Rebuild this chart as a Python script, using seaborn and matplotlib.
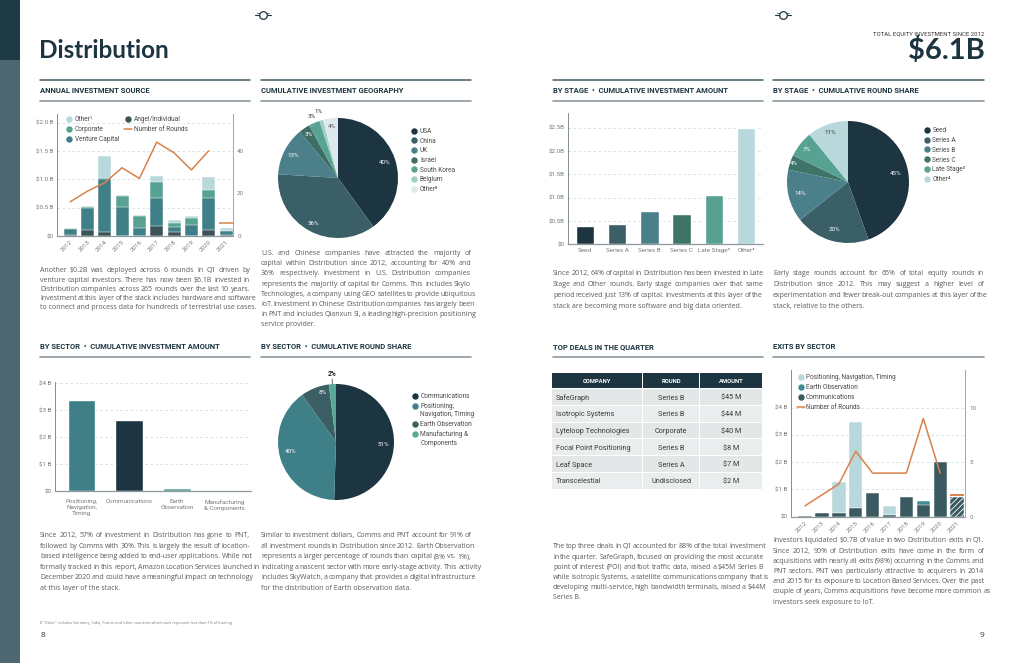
import seaborn as sns
import matplotlib.pyplot as plt
from matplotlib.lines import Line2D
from matplotlib.patches import Rectangle
import numpy as np

# ---------------- data ----------------
years = ['2012', '2013', '2014', '2015', '2016', '2017', '2018', '2019', '2020', '2021']
angel = [0.01, 0.10, 0.07, 0.00, 0.00, 0.18, 0.07, 0.00, 0.10, 0.02]
venture = [0.11, 0.40, 0.94, 0.51, 0.14, 0.49, 0.09, 0.20, 0.57, 0.07]
corporate = [0.00, 0.01, 0.01, 0.19, 0.22, 0.28, 0.07, 0.12, 0.14, 0.00]
other_src = [0.03, 0.025, 0.39, 0.02, 0.016, 0.11, 0.046, 0.027, 0.236, 0.05]
rounds = [16, 21, 25, 32, 27, 44, 39, 31, 40, 6]

geo_labels = ['USA', 'China', 'UK', 'Israel', 'South Korea', 'Belgium', 'Other⁸']
geo_share = [40, 36, 13, 3, 3, 1, 4]

stages = ['Seed', 'Series A', 'Series B', 'Series C', 'Late Stage³', 'Other⁴']
stage_amount = [0.39, 0.43, 0.71, 0.65, 1.06, 2.50]
stage_share = [45, 20, 14, 4, 7, 11]

sectors = ['Positioning,\nNavigation,\nTiming', 'Communications', 'Earth\nObservation', 'Manufacturing\n& Components']
sector_amount = [3.38, 2.62, 0.12, 0.05]
sector_pie_labels = ['Communications', 'Positioning,\nNavigation, Timing', 'Earth Observation', 'Manufacturing &\nComponents']
sector_share = [51, 40, 8, 2]

deal_company = ['SafeGraph', 'Isotropic Systems', 'Lyteloop Technologies', 'Focal Point Positioning', 'Leaf Space', 'Transcelestial']
deal_round = ['Series B', 'Series B', 'Corporate', 'Series B', 'Series A', 'Undisclosed']
deal_amount = ['$45 M', '$44 M', '$40 M', '$8 M', '$7 M', '$2 M']

exit_comms = [0.03, 0.15, 0.15, 0.33, 0.87, 0.05, 0.73, 0.44, 2.02, 0.73]
exit_eo = [0.0, 0.0, 0.0, 0.0, 0.0, 0.0, 0.0, 0.12, 0.0, 0.0]
exit_pnt = [0.0, 0.0, 1.12, 3.14, 0.0, 0.35, 0.0, 0.02, 0.0, 0.0]
exit_rounds = [1, 2, 3, 6, 4, 4, 4, 9, 4, 2]

# ---------------- style ----------------
NAVY = '#1c3541'
TEAL = '#3f8088'
GREEN = '#58a293'
LIGHT = '#b9d8dc'
ORANGE = '#d9824b'
GRID = '#cfe0e3'
SPINE = '#8c999d'
BODY = '#5b5b5b'
TICK = '#7a7a7a'

sns.set_theme(style='white')
plt.rcParams['font.family'] = ['Open Sans', 'DejaVu Sans']
plt.rcParams['hatch.color'] = '#8fa6ab'
plt.rcParams['hatch.linewidth'] = 0.6
COND = ['Liberation Sans Narrow', 'Roboto', 'DejaVu Sans']
HEAD = ['Roboto', 'DejaVu Sans']

W, H = 1024, 663
fig = plt.figure(figsize=(W / 100, H / 100), dpi=100)
renderer = fig.canvas.get_renderer()


def box(l, t, r, b):
    return fig.add_axes([l / W, 1 - b / H, (r - l) / W, (b - t) / H])


def ftext(x, y, s, size=5.0, color=BODY, family=None, **kw):
    # y is the visual middle of the lowercase letters; text sits on a baseline
    if 'va' not in kw:
        kw['va'] = 'baseline'
        y = y + size * 0.48
    return fig.text(x / W, 1 - y / H, s, fontsize=size, color=color,
                    family=family or ['Open Sans', 'DejaVu Sans'], **kw)


def rule(x0, x1, y, color, lw=1.0):
    fig.add_artist(Line2D([x0 / W, x1 / W], [1 - y / H] * 2, color=color, lw=lw))


def paragraph(x0, x1, y0, step, lines, size=5.0):
    # justified block, last line flush left
    for i, line in enumerate(lines):
        y = y0 + i * step
        words = line.split()
        if i == len(lines) - 1:
            ftext(x0, y, line, size=size)
            continue
        arts = [ftext(x0, y, w, size=size) for w in words]
        widths = [a.get_window_extent(renderer).width for a in arts]
        gap = max((x1 - x0 - sum(widths)) / (len(words) - 1), 1.0)
        x = x0
        for a, w in zip(arts, widths):
            a.set_x(x / W)
            x += w + gap


def dot_legend(xd, xt, ys, labels, colors, kinds=None, size=4.7):
    kinds = kinds or ['dot'] * len(labels)
    for y, lab, c, k in zip(ys, labels, colors, kinds):
        if k == 'line':
            fig.add_artist(Line2D([(xd - 4) / W, (xd + 4) / W], [1 - y / H] * 2, color=c, lw=1.1))
        else:
            fig.add_artist(Line2D([xd / W], [1 - y / H], marker='o', ms=3.6, color=c, ls=''))
        for j, part in enumerate(lab.split('\n')):
            ftext(xt, y + j * 8.3, part, size=size, color='#4a4a4a', family=COND)


def section(x0, x1, y_title, title, top_rule=True):
    if top_rule:
        rule(x0, x1, y_title - 11, '#3f5a63', 1.1)
    ftext(x0, y_title - 0.6, title, size=5.5, color=NAVY, family=HEAD, weight='bold')
    rule(x0, x1, y_title + 10, '#8b9a9f', 1.2)


def style_axes(ax, ticks, labels, ylim, xlim):
    ax.set_ylim(*ylim)
    ax.set_xlim(*xlim)
    ax.set_yticks(ticks, labels)
    for t in ticks[1:]:
        ax.axhline(t, color=GRID, lw=0.6, ls=(0, (3, 3)), zorder=0.5)
    sns.despine(ax=ax)
    ax.spines['left'].set_color('#6d7b80')
    ax.spines['left'].set_linewidth(0.6)
    ax.spines['bottom'].set_color(SPINE)
    ax.spines['bottom'].set_linewidth(0.9)
    ax.tick_params(length=0, labelsize=4.5, labelcolor=TICK, pad=2.5)
    ax.set_xlabel('')
    ax.set_ylabel('')
    for lbl in ax.get_xticklabels() + ax.get_yticklabels():
        lbl.set_family(COND)
    ax.patch.set_alpha(0)


def style_right(ax, ylim, ticks, xlim):
    ax.set_ylim(*ylim)
    ax.set_yticks(ticks, [str(t) for t in ticks])
    ax.set_xlim(*xlim)
    ax.set_ylabel('')
    for s in ('top', 'left', 'bottom'):
        ax.spines[s].set_visible(False)
    ax.spines['right'].set_color(SPINE)
    ax.spines['right'].set_linewidth(0.6)
    ax.tick_params(length=0, labelsize=4.5, labelcolor=TICK, pad=3)
    for lbl in ax.get_yticklabels():
        lbl.set_family(COND)


def stacked(ax, layers, colors, width):
    cum = np.cumsum(np.array(layers), axis=0)
    for i in reversed(range(len(layers))):
        sns.barplot(x=years, y=cum[i], color=colors[i], width=width, saturation=1,
                    edgecolor='white', linewidth=0.35, ax=ax)


def pie_labels(ax, values, texts, radii, colors, size=4.5, weight='normal'):
    total = float(sum(values))
    start = 90.0
    for v, t, r, c in zip(values, texts, radii, colors):
        mid = np.deg2rad(start - v / total * 180)
        ax.text(r * np.cos(mid), r * np.sin(mid), t, ha='center', va='center',
                fontsize=size, color=c, family=COND, weight=weight)
        start -= v / total * 360


# ---------------- page furniture ----------------
fig.add_artist(Rectangle((0, 0), 20 / W, 1 - 60 / H, transform=fig.transFigure, color='#4d6670', lw=0))
fig.add_artist(Rectangle((0, 1 - 60 / H), 20 / W, 60 / H, transform=fig.transFigure, color='#1e3a45', lw=0))
for cx in (263, 783):
    rule(cx - 8, cx + 8, 15, NAVY, 0.8)
    rule(cx - 6, cx + 6, 12.5, NAVY, 0.5)
    fig.add_artist(Line2D([cx / W], [1 - 15 / H], marker='o', ms=5.5, mfc='white', mec=NAVY, mew=0.9, ls=''))

ftext(39, 50, 'Distribution', size=17.5, color=NAVY, family=['Lato', 'DejaVu Sans'], weight='bold', va='center')
ftext(984, 33, 'TOTAL EQUITY INVESTMENT SINCE 2012', size=4.3, color='#333333', family=COND, ha='right')
ftext(985, 51, '$6.1B', size=21, color=NAVY, family=['Lato', 'DejaVu Sans'], weight='bold', ha='right', va='center')

section(40, 250, 91, 'ANNUAL INVESTMENT SOURCE')
section(261, 471, 91, 'CUMULATIVE INVESTMENT GEOGRAPHY')
section(553, 763, 91, 'BY STAGE  •  CUMULATIVE INVESTMENT AMOUNT')
section(773, 984, 91, 'BY STAGE  •  CUMULATIVE ROUND SHARE')
section(40, 250, 347, 'BY SECTOR  •  CUMULATIVE INVESTMENT AMOUNT', top_rule=False)
section(261, 471, 347, 'BY SECTOR  •  CUMULATIVE ROUND SHARE', top_rule=False)
section(553, 763, 347, 'TOP DEALS IN THE QUARTER', top_rule=False)
section(773, 984, 347, 'EXITS BY SECTOR', top_rule=False)

# ---------------- annual investment source ----------------
src_colors = ['#3b5258', TEAL, GREEN, LIGHT]
ax1 = box(56.7, 113.7, 233, 236)
stacked(ax1, [angel, venture, corporate, other_src], src_colors, 0.75)
style_axes(ax1, [0, 0.5, 1.0, 1.5, 2.0], ['$0', '$0.5 B', '$1.0 B', '$1.5 B', '$2.0 B'], (0, 2.159), (-0.77, 9.4))
ax1.set_xticks(range(len(years)), years, rotation=45, ha='right', rotation_mode='anchor', family=COND)
ax1r = ax1.twinx()
sns.lineplot(x=np.arange(9), y=rounds[:9], ax=ax1r, color=ORANGE, lw=1.1)
ax1r.hlines(rounds[9], 9 - 0.38, 9 + 0.38, color=ORANGE, lw=1.1)
style_right(ax1r, (0, 57.35), [0, 20, 40], (-0.77, 9.4))
dot_legend(69, 75, [118.7, 129, 139], ['Other¹', 'Corporate', 'Venture Capital'], [LIGHT, GREEN, TEAL])
dot_legend(127.5, 134.3, [118.7, 129], ['Angel/Individual', 'Number of Rounds'], ['#3b5258', ORANGE], ['dot', 'line'])

# ---------------- geography pie ----------------
geo_colors = [NAVY, '#3a5f67', '#4b7f89', '#3e6f66', '#5aa394', '#9dd0c4', '#dde9ec']
axg = box(278, 118, 398, 238)
axg.pie(geo_share, colors=geo_colors, startangle=90, counterclock=False, wedgeprops=dict(linewidth=0))
axg.set_xlim(-1, 1)
axg.set_ylim(-1, 1)
pie_labels(axg, geo_share, [f'{v}%' for v in geo_share], [0.82, 0.86, 0.84, 0.88, 1.12, 1.16, 0.86],
           ['white', 'white', 'white', 'white', '#333333', '#333333', '#555555'])
dot_legend(414, 420, [130.7 + i * 9.67 for i in range(7)], geo_labels, geo_colors)

# ---------------- stage bars ----------------
stage_colors = [NAVY, '#3a5f67', '#4b7f89', '#3e7468', GREEN, LIGHT]
ax3 = box(568, 113, 763, 244.3)
sns.barplot(x=stages, y=stage_amount, hue=stages, palette=stage_colors, width=0.57, saturation=1,
            legend=False, ax=ax3)
style_axes(ax3, [0, 0.5, 1.0, 1.5, 2.0, 2.5], ['$0', '$0.5B', '$1.0B', '$1.5B', '$2.0B', '$2.5B'],
           (0, 2.815), (-0.53, 5.53))

# ---------------- stage pie ----------------
axp = box(787, 121, 909, 243)
axp.pie(stage_share, colors=stage_colors, startangle=90, counterclock=False, wedgeprops=dict(linewidth=0))
axp.set_xlim(-1, 1)
axp.set_ylim(-1, 1)
pie_labels(axp, stage_share, [f'{v}%' for v in stage_share], [0.8, 0.81, 0.8, 0.93, 0.86, 0.86],
           ['white'] * 5 + ['#333333'])
dot_legend(927, 932.5, [129.7 + i * 9.87 for i in range(6)], stages, stage_colors)

# ---------------- sector bars ----------------
sector_colors = [TEAL, NAVY, GREEN, '#3c5e65']
ax5 = box(55, 381.7, 251, 491)
sns.barplot(x=sectors, y=sector_amount, hue=sectors, palette=sector_colors, width=0.58, saturation=1,
            legend=False, ax=ax5)
style_axes(ax5, [0, 1, 2, 3, 4], ['$0', '$1 B', '$2 B', '$3 B', '$4 B'], (0, 4.06), (-0.56, 3.56))
ax5.tick_params(axis='x', pad=6)
for lbl in ax5.get_xticklabels():
    lbl.set_linespacing(1.25)
    lbl.set_va('top')

# ---------------- sector pie ----------------
spie_colors = [NAVY, TEAL, '#3c5e65', '#58a898']
axs = box(278, 384, 394, 500)
axs.pie(sector_share, colors=spie_colors, startangle=90, counterclock=False, wedgeprops=dict(linewidth=0))
axs.set_xlim(-1, 1)
axs.set_ylim(-1, 1)
pie_labels(axs, sector_share[:3], [f'{v}%' for v in sector_share[:3]], [0.81, 0.8, 0.88], ['white'] * 3)
mid = np.deg2rad(90 - (sum(sector_share) - sector_share[-1] / 2) / sum(sector_share) * 360)
axs.plot([1.0 * np.cos(mid), 1.09 * np.cos(mid)], [1.0 * np.sin(mid), 1.09 * np.sin(mid)],
         color='#333333', lw=0.5, clip_on=False)
axs.text(1.17 * np.cos(mid), 1.17 * np.sin(mid), f'{sector_share[-1]}%', ha='center', va='center',
         fontsize=4.8, color='#222222', family=COND, weight='bold')
dot_legend(415, 420.5, [396, 405.7, 424, 434], sector_pie_labels, spie_colors)

# ---------------- top deals table ----------------
cols = [(552, 642), (643, 699), (700, 762)]


def fig_rect(x0, y0, x1, y1, c):
    fig.add_artist(Rectangle((x0 / W, 1 - y1 / H), (x1 - x0) / W, (y1 - y0) / H,
                             transform=fig.transFigure, color=c, lw=0))


for (x0, x1), head in zip(cols, ['COMPANY', 'ROUND', 'AMOUNT']):
    fig_rect(x0, 373.3, x1, 388.3, NAVY)
    ftext((x0 + x1) / 2, 381, head, size=4.2, color='white', family=HEAD, weight='bold', ha='center')
for i, (comp, rnd, amt) in enumerate(zip(deal_company, deal_round, deal_amount)):
    y0 = 389.3 + i * 16.7
    for (x0, x1) in cols:
        fig_rect(x0, y0, x1, y0 + 15.7, '#e3e7e8' if i % 2 == 0 else '#eaedee')
    yc = y0 + 8
    ftext(556, yc, comp, size=5.2, color='#3a3a3a', family=HEAD)
    ftext(671, yc, rnd, size=5.2, color='#3a3a3a', family=HEAD, ha='center')
    ftext(731, yc, amt, size=5.2, color='#3a3a3a', family=HEAD, ha='center')

# ---------------- exits by sector ----------------
ax8 = box(790.7, 370, 965, 516.7)
cum = np.cumsum(np.array([exit_comms, exit_eo, exit_pnt]), axis=0)
exit_colors = ['#3a5960', '#3f8c92', LIGHT]
for i in reversed(range(3)):
    sns.barplot(x=years, y=cum[i], color=exit_colors[i], width=0.79, saturation=1,
                edgecolor='white', linewidth=0.35, ax=ax8)
ax8.patches[-1].set_hatch('//////')
style_axes(ax8, [0, 1, 2, 3, 4], ['$0', '$1 B', '$2 B', '$3 B', '$4 B'], (0, 5.38), (-0.85, 9.47))
ax8.set_xticks(range(len(years)), years, rotation=45, ha='right', rotation_mode='anchor', family=COND)
ax8r = ax8.twinx()
sns.lineplot(x=np.arange(9), y=exit_rounds[:9], ax=ax8r, color=ORANGE, lw=1.1)
ax8r.hlines(exit_rounds[9], 9 - 0.4, 9 + 0.4, color=ORANGE, lw=1.4)
style_right(ax8r, (0, 13.45), [0, 5, 10], (-0.85, 9.47))
dot_legend(800.7, 806, [376.7, 386.7, 396.7, 407],
           ['Positioning, Navigation, Timing', 'Earth Observation', 'Communications', 'Number of Rounds'],
           [LIGHT, '#3f8c92', '#3a5960', ORANGE], ['dot', 'dot', 'dot', 'line'])

# ---------------- body copy ----------------
paragraph(40, 250, 270, 9.25, [
    'Another $0.2B was deployed across 6 rounds in Q1 driven by',
    'venture capital investors. There has now been $6.1B invested in',
    'Distribution companies across 265 rounds over the last 10 years.',
    'Investment at this layer of the stack includes hardware and software',
    'to connect and process data for hundreds of terrestrial use cases.',
])
paragraph(261, 471, 252.7, 10.15, [
    'U.S. and Chinese companies have attracted the majority of',
    'capital within Distribution since 2012, accounting for 40% and',
    '36% respectively. Investment in U.S. Distribution companies',
    'represents the majority of capital for Comms. This includes Skylo',
    'Technologies, a company using GEO satellites to provide ubiquitous',
    'IoT. Investment in Chinese Distribution companies has largely been',
    'in PNT and includes Qianxun SI, a leading high-precision positioning',
    'service provider.',
])
paragraph(553, 763, 272.7, 10.9, [
    'Since 2012, 64% of capital in Distribution has been invested in Late',
    'Stage and Other rounds. Early stage companies over that same',
    'period received just 13% of capital. Investments at this layer of the',
    'stack are becoming more software and big data oriented.',
])
paragraph(773, 984, 272.7, 10.9, [
    'Early stage rounds account for 65% of total equity rounds in',
    'Distribution since 2012. This may suggest a higher level of',
    'experimentation and fewer break-out companies at this layer of the',
    'stack, relative to the others.',
])
paragraph(40, 250, 535, 10.5, [
    'Since 2012, 57% of investment in Distribution has gone to PNT,',
    'followed by Comms with 30%. This is largely the result of location-',
    'based intelligence being added to end-user applications. While not',
    'formally tracked in this report, Amazon Location Services launched in',
    'December 2020 and could have a meaningful impact on technology',
    'at this layer of the stack.',
])
paragraph(261, 471, 535, 10.5, [
    'Similar to investment dollars, Comms and PNT account for 91% of',
    'all investment rounds in Distribution since 2012. Earth Observation',
    'represents a larger percentage of rounds than capital (8% vs. 1%),',
    'indicating a nascent sector with more early-stage activity. This activity',
    'includes SkyWatch, a company that provides a digital infrastructure',
    'for the distribution of Earth observation data.',
])
paragraph(553, 763, 546, 10.2, [
    'The top three deals in Q1 accounted for 88% of the total investment',
    'in the quarter. SafeGraph, focused on providing the most accurate',
    'point of interest (POI) and foot traffic data, raised a $45M Series B',
    'while Isotropic Systems, a satellite communications company that is',
    'developing multi-service, high bandwidth terminals, raised a $44M',
    'Series B.',
])
paragraph(773, 984, 540, 10.2, [
    'Investors liquidated $0.7B of value in two Distribution exits in Q1.',
    'Since 2012, 90% of Distribution exits have come in the form of',
    'acquisitions with nearly all exits (98%) occurring in the Comms and',
    'PNT sectors. PNT was particularly attractive to acquirers in 2014',
    'and 2015 for its exposure to Location Based Services. Over the past',
    'couple of years, Comms acquisitions have become more common as',
    'investors seek exposure to IoT.',
])
ftext(40, 622.7, '8 "Other" includes Germany, India, France and other countries which each represent less than 1% of funding.',
      size=2.7, color='#777777')
ftext(41, 634, '8', size=6, color='#333333')
ftext(984, 634, '9', size=6, color='#333333', ha='right')

fig.savefig('out.png', dpi=100, facecolor='white')
